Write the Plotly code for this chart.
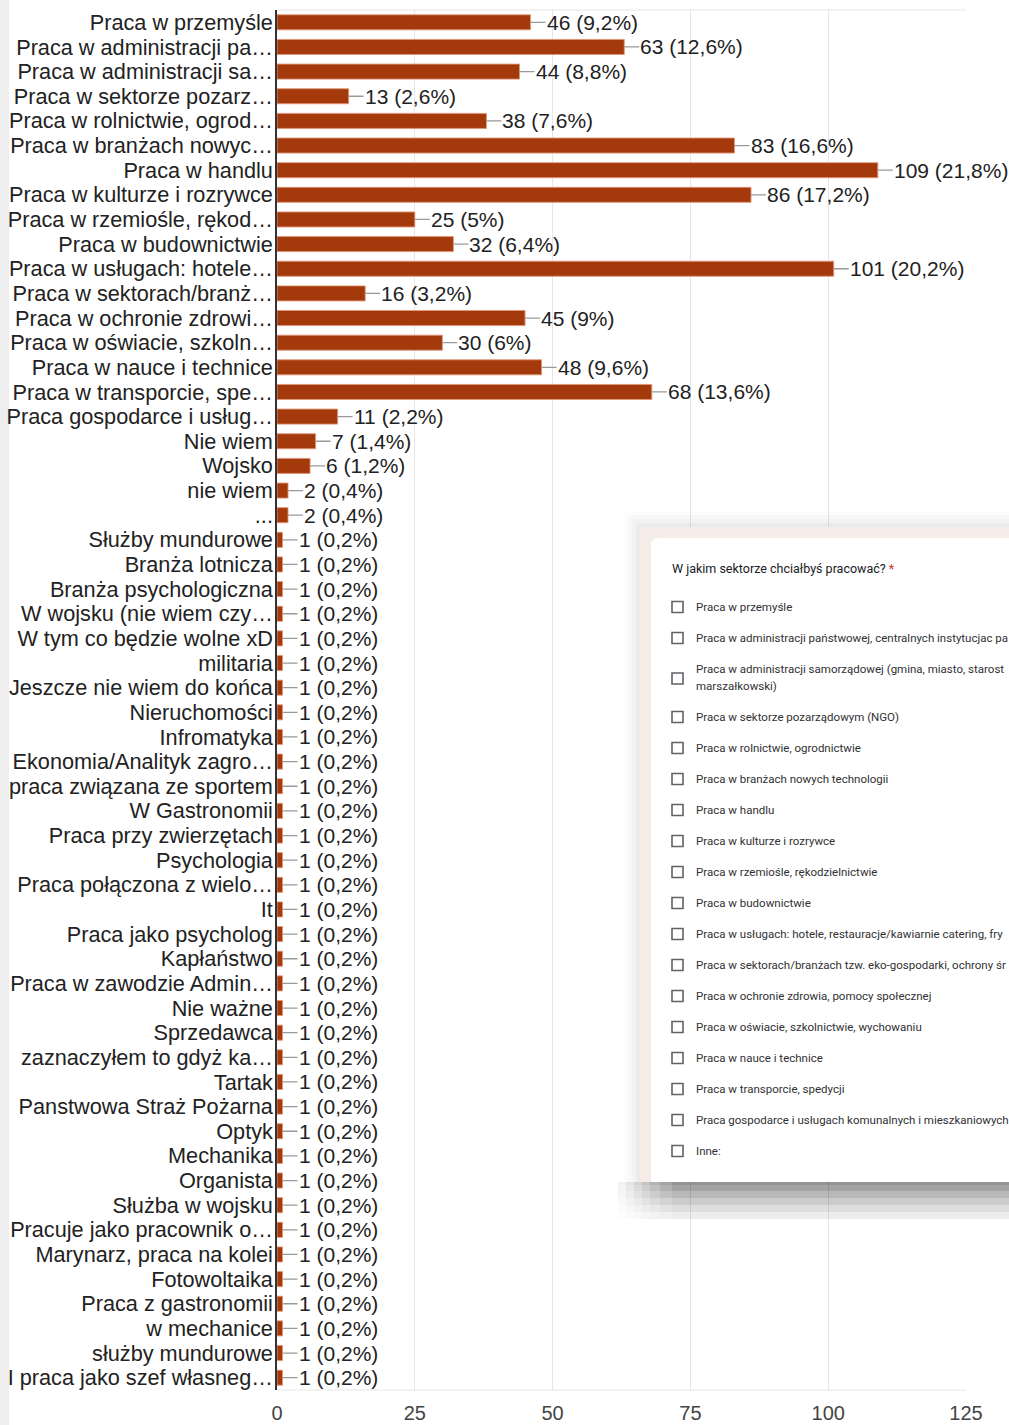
import plotly.graph_objects as go

# Survey answers: "W jakim sektorze chciałbyś pracować?"
categories = [
    "Praca w przemyśle", "Praca w administracji pa…", "Praca w administracji sa…",
    "Praca w sektorze pozarz…", "Praca w rolnictwie, ogrod…", "Praca w branżach nowyc…",
    "Praca w handlu", "Praca w kulturze i rozrywce", "Praca w rzemiośle, rękod…",
    "Praca w budownictwie", "Praca w usługach: hotele…", "Praca w sektorach/branż…",
    "Praca w ochronie zdrowi…", "Praca w oświacie, szkoln…", "Praca w nauce i technice",
    "Praca w transporcie, spe…", "Praca gospodarce i usług…", "Nie wiem", "Wojsko",
    "nie wiem", "...", "Służby mundurowe", "Branża lotnicza", "Branża psychologiczna",
    "W wojsku (nie wiem czy…", "W tym co będzie wolne xD", "militaria",
    "Jeszcze nie wiem do końca", "Nieruchomości", "Infromatyka", "Ekonomia/Analityk zagro…",
    "praca związana ze sportem", "W Gastronomii", "Praca przy zwierzętach", "Psychologia",
    "Praca połączona z wielo…", "It", "Praca jako psycholog", "Kapłaństwo",
    "Praca w zawodzie Admin…", "Nie ważne", "Sprzedawca", "zaznaczyłem to gdyż ka…",
    "Tartak", "Panstwowa Straż Pożarna", "Optyk", "Mechanika", "Organista",
    "Służba w wojsku", "Pracuje jako pracownik o…", "Marynarz, praca na kolei",
    "Fotowoltaika", "Praca z gastronomii", "w mechanice", "służby mundurowe",
    "I praca jako szef własneg…",
]
counts = [46, 63, 44, 13, 38, 83, 109, 86, 25, 32, 101, 16, 45, 30, 48, 68, 11, 7, 6, 2, 2] \
    + [1] * 35
respondents = 500
x_ticks = [0, 25, 50, 75, 100, 125]

form_question = "W jakim sektorze chciałbyś pracować?"
form_options = [
    "Praca w przemyśle",
    "Praca w administracji państwowej, centralnych instytucjac pa",
    "Praca w administracji samorządowej (gmina, miasto, starost|marszałkowski)",
    "Praca w sektorze pozarządowym (NGO)",
    "Praca w rolnictwie, ogrodnictwie",
    "Praca w branżach nowych technologii",
    "Praca w handlu",
    "Praca w kulturze i rozrywce",
    "Praca w rzemiośle, rękodzielnictwie",
    "Praca w budownictwie",
    "Praca w usługach: hotele, restauracje/kawiarnie catering, fry",
    "Praca w sektorach/branżach tzw. eko-gospodarki, ochrony śr",
    "Praca w ochronie zdrowia, pomocy społecznej",
    "Praca w oświacie, szkolnictwie, wychowaniu",
    "Praca w nauce i technice",
    "Praca w transporcie, spedycji",
    "Praca gospodarce i usługach komunalnych i mieszkaniowych",
    "Inne:",
]

W, H = 1009, 1425
ML, MR, MT, MB = 277, 43, 10, 35
PW, PH = W - ML - MR, H - MT - MB
FONT = "Liberation Sans, Arial, sans-serif"
BAR = "#a4390b"


def px(x):
    return (x - ML) / PW


def py(y):
    return (H - MB - y) / PH


def pct_label(v):
    p = round(v / respondents * 100, 1)
    s = f"{p:.1f}".rstrip("0").rstrip(".").replace(".", ",")
    return f"{v} ({s}%)"


fig = go.Figure(go.Bar(
    x=counts, y=categories, orientation="h",
    marker=dict(color=BAR, line=dict(color="rgba(225,150,120,0.9)", width=1)),
    hoverinfo="skip",
))

annotations = []
for c, v in zip(categories, counts):
    annotations.append(dict(
        x=v, y=c, xref="x", yref="y", text=pct_label(v),
        showarrow=True, arrowhead=0, arrowwidth=1.3, arrowcolor="#9a9a9a",
        ax=15, ay=0, xanchor="left", yanchor="middle", borderpad=0,
        font=dict(family=FONT, size=21, color="#222222"),
    ))

shapes = []
# grey strip along the left edge of the page
shapes.append(dict(type="rect", xref="paper", yref="paper", x0=px(0), x1=px(9),
                   y0=py(0), y1=py(H), fillcolor="#eeeeee", line_width=0, layer="below"))
# plot frame lines
for yy in (MT, H - MB):
    shapes.append(dict(type="line", xref="paper", yref="paper", x0=0, x1=1, y0=py(yy), y1=py(yy),
                       line=dict(color="#e6e6e6", width=1), layer="below"))

# ---- form card drawn on top of the chart ----
CX0, CY0, CY1 = 640, 527, 1182
for i, a in enumerate([0.010, 0.015, 0.02, 0.03]):
    g = 16 - i * 4
    shapes.append(dict(type="rect", xref="paper", yref="paper",
                       x0=px(CX0 - g), x1=px(W + 20), y0=py(CY0 - g), y1=py(CY1),
                       fillcolor=f"rgba(0,0,0,{a})", line_width=0, layer="above"))
shapes.append(dict(type="rect", xref="paper", yref="paper", x0=px(CX0), x1=px(W + 20),
                   y0=py(CY0), y1=py(CY1), fillcolor="#f5ece8", line_width=0, layer="above"))
r = 8
path = (f"M {px(651)},{py(CY1)} L {px(651)},{py(538 + r)} "
        f"Q {px(651)},{py(538)} {px(651 + r)},{py(538)} "
        f"L {px(W + 20)},{py(538)} L {px(W + 20)},{py(CY1)} Z")
shapes.append(dict(type="path", xref="paper", yref="paper", path=path,
                   fillcolor="white", line_width=0, layer="above"))
# shadow band under the card, fading towards its left end
band = [(0, 3, 0.42), (3, 9, 0.36), (9, 16, 0.28), (16, 23, 0.2), (23, 30, 0.13), (30, 37, 0.07)]
fade = [(618, 626, 0.12), (626, 634, 0.25), (634, 642, 0.4), (642, 650, 0.55),
        (650, 660, 0.7), (660, 672, 0.85), (672, W + 20, 1.0)]
for y0, y1, a in band:
    for xa, xb, f in fade:
        shapes.append(dict(type="rect", xref="paper", yref="paper",
                           x0=px(xa), x1=px(xb), y0=py(CY1 + y0), y1=py(CY1 + y1),
                           fillcolor=f"rgba(0,0,0,{a * f:.3f})", line_width=0, layer="above"))

CARD_FONT = "Roboto, Noto Sans, sans-serif"
annotations.append(dict(
    x=px(670), y=py(568), xref="paper", yref="paper", xanchor="left", yanchor="middle",
    showarrow=False, text=form_question + " <span style='color:#d93025'>*</span>",
    font=dict(family=CARD_FONT, size=12.5, color="#202124"),
))
extra = 0
for k, opt in enumerate(form_options):
    lines = opt.split("|")
    yc = 607 + 31 * k + extra
    for j, line in enumerate(lines):
        annotations.append(dict(
            x=px(694), y=py(yc + 17 * j), xref="paper", yref="paper",
            xanchor="left", yanchor="middle", showarrow=False, text=line,
            font=dict(family=CARD_FONT, size=11.5, color="#303134"),
        ))
    box_c = yc + 17 * (len(lines) - 1) / 2 + (1 if len(lines) > 1 else 0)
    shapes.append(dict(type="rect", xref="paper", yref="paper",
                       x0=px(672), x1=px(683), y0=py(box_c - 5.5), y1=py(box_c + 5.5),
                       line=dict(color="#5f6368", width=1.6), fillcolor="rgba(0,0,0,0)",
                       layer="above"))
    extra += 17 * (len(lines) - 1)

fig.update_layout(
    width=W, height=H,
    margin=dict(l=ML, r=MR, t=MT, b=MB, autoexpand=False),
    paper_bgcolor="white", plot_bgcolor="white",
    bargap=0.39, showlegend=False,
    annotations=annotations, shapes=shapes,
    xaxis=dict(
        range=[0, 125], tickvals=x_ticks, showgrid=True, gridcolor="#e6e6e6", gridwidth=1,
        zeroline=False, showline=False, ticks="", ticklabelstandoff=9,
        tickfont=dict(family=FONT, size=20, color="#444444"), fixedrange=True,
    ),
    yaxis=dict(
        range=[len(categories) - 0.5, -0.5], tickmode="array", tickvals=categories,
        ticktext=categories, showgrid=False, zeroline=False,
        showline=True, linecolor="#333333", linewidth=1.5, ticks="", ticklabelstandoff=-2,
        tickfont=dict(family=FONT, size=21.7, color="#222222"), fixedrange=True,
    ),
)

fig.write_html("out.html")
